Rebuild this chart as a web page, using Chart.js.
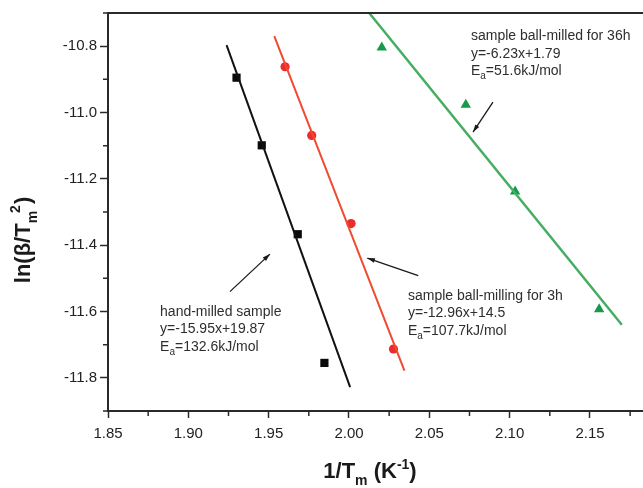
<!DOCTYPE html>
<html>
<head>
<meta charset="utf-8">
<script src="https://cdn.jsdelivr.net/npm/chart.js@4.4.1/dist/chart.umd.min.js"></script>
<style>
  body { margin: 0; background: #fff; }
  #wrap { width: 643px; height: 488px; position: relative; }
</style>
</head>
<body>
<div id="wrap"><canvas id="grafico"></canvas></div>
<script>
// measured points
const handX = [1.930, 1.9457, 1.9681, 1.9847];
const handY = [-10.895, -11.099, -11.367, -11.755];
const ball3X = [1.9602, 1.9768, 2.0013, 2.0277];
const ball3Y = [-10.862, -11.069, -11.335, -11.713];
const ball36X = [2.0204, 2.0727, 2.1034, 2.1557];
const ball36Y = [-10.804, -10.977, -11.238, -11.593];

// fitted lines (end points)
const handFitX = [1.9238, 2.0007];
const handFitY = [-10.797, -11.828];
const ball3FitX = [1.9535, 2.0345];
const ball3FitY = [-10.770, -11.778];
const ball36FitX = [2.0126, 2.1698];
const ball36FitY = [-10.70, -11.640];

// axes
const xMajor = [1.85, 1.90, 1.95, 2.00, 2.05, 2.10, 2.15];
const xMinor = [1.875, 1.925, 1.975, 2.025, 2.075, 2.125, 2.175];
const yMajor = [-10.8, -11.0, -11.2, -11.4, -11.6, -11.8];
const yMinor = [-10.7, -10.9, -11.1, -11.3, -11.5, -11.7, -11.9];

// annotations (data coords)
const noteText = [
    ['hand-milled sample', 'y=-15.95x+19.87', 'E|a|=132.6kJ/mol'],
    ['sample ball-milling for 3h', 'y=-12.96x+14.5', 'E|a|=107.7kJ/mol'],
    ['sample ball-milled for 36h', 'y=-6.23x+1.79', 'E|a|=51.6kJ/mol']
];
const noteX = [1.8824, 2.0367, 2.0759];
const noteY = [-11.601, -11.553, -10.771];
const arrowFrom = [[1.9259, -11.540], [2.0431, -11.492], [2.0896, -10.969]];
const arrowTo = [[1.9508, -11.427], [2.0114, -11.439], [2.0772, -11.059]];

function pts(xs, ys) {
    return xs.map((x, i) => ({ x: x, y: ys[i] }));
}

function richWidth(ctx, parts) {
    let w = 0;
    parts.forEach(p => { ctx.font = p.font; w += ctx.measureText(p.t).width + (p.dx || 0); });
    return w;
}
function drawRich(ctx, parts, x, y) {
    parts.forEach(p => {
        ctx.font = p.font;
        ctx.fillText(p.t, x + (p.dx || 0), y + (p.dy || 0));
        x += ctx.measureText(p.t).width + (p.dx || 0);
    });
}

const extras = {
    id: 'extras',
    afterDraw(chart) {
        const ctx = chart.ctx;
        const xs = chart.scales.x, ys = chart.scales.y;
        const area = chart.chartArea;
        ctx.save();
        // top frame line
        ctx.strokeStyle = '#2a2a2a';
        ctx.lineWidth = 2;
        ctx.beginPath();
        ctx.moveTo(area.left - 1, area.top);
        ctx.lineTo(chart.width, area.top);
        ctx.stroke();
        // minor ticks
        ctx.lineWidth = 1.5;
        ctx.beginPath();
        xMinor.forEach(v => {
            const px = xs.getPixelForValue(v);
            ctx.moveTo(px, area.bottom);
            ctx.lineTo(px, area.bottom + 5);
        });
        yMinor.forEach(v => {
            const py = ys.getPixelForValue(v);
            ctx.moveTo(area.left, py);
            ctx.lineTo(area.left - 5, py);
        });
        ctx.stroke();

        // notes
        ctx.fillStyle = '#2e2e2e';
        ctx.textBaseline = 'middle';
        ctx.textAlign = 'left';
        noteText.forEach((lines, i) => {
            const px = xs.getPixelForValue(noteX[i]);
            const py = ys.getPixelForValue(noteY[i]);
            lines.forEach((ln, k) => {
                const bits = ln.split('|');
                const parts = [];
                bits.forEach((b, j) => {
                    if (!b) return;
                    if (j % 2 === 1) parts.push({ t: b, font: '10px "Liberation Sans", Arial', dy: 5 });
                    else parts.push({ t: b, font: '14px "Liberation Sans", Arial' });
                });
                drawRich(ctx, parts, px, py + k * 17.5);
            });
        });

        // arrows
        ctx.strokeStyle = '#1a1a1a';
        ctx.fillStyle = '#1a1a1a';
        ctx.lineWidth = 1.3;
        arrowFrom.forEach((a, i) => {
            const x1 = xs.getPixelForValue(a[0]), y1 = ys.getPixelForValue(a[1]);
            const x2 = xs.getPixelForValue(arrowTo[i][0]), y2 = ys.getPixelForValue(arrowTo[i][1]);
            const ang = Math.atan2(y2 - y1, x2 - x1);
            ctx.beginPath();
            ctx.moveTo(x1, y1);
            ctx.lineTo(x2, y2);
            ctx.stroke();
            ctx.beginPath();
            ctx.moveTo(x2, y2);
            ctx.lineTo(x2 - 8 * Math.cos(ang - 0.3), y2 - 8 * Math.sin(ang - 0.3));
            ctx.lineTo(x2 - 8 * Math.cos(ang + 0.3), y2 - 8 * Math.sin(ang + 0.3));
            ctx.closePath();
            ctx.fill();
        });

        // axis titles
        ctx.fillStyle = '#1a1a1a';
        ctx.textBaseline = 'alphabetic';
        const big = 'bold 22px "Liberation Sans", Arial';
        const small = 'bold 14px "Liberation Sans", Arial';
        const xt = [
            { t: '1/T', font: big },
            { t: 'm', font: small, dy: 7 },
            { t: ' (K', font: big },
            { t: '-1', font: small, dy: -9 },
            { t: ')', font: big }
        ];
        const xw = richWidth(ctx, xt);
        drawRich(ctx, xt, 370 - xw / 2, 478);

        const yt = [
            { t: 'ln(\u03B2/T', font: big },
            { t: 'm', font: small, dy: 7 },
            { t: '2', font: small, dy: -10, dx: -2 },
            { t: ')', font: big, dx: 1 }
        ];
        const yw = richWidth(ctx, yt);
        ctx.translate(30, 240);
        ctx.rotate(-Math.PI / 2);
        drawRich(ctx, yt, -yw / 2, 0);
        ctx.restore();
    }
};

const tickFont = { family: '"Liberation Sans", Arial', size: 15 };

const chart = new Chart(document.getElementById('grafico'), {
    type: 'scatter',
    data: {
        datasets: [
            { label: 'hand fit', data: pts(handFitX, handFitY), showLine: true, borderColor: '#111111', borderWidth: 2, pointRadius: 0 },
            { label: '3h fit', data: pts(ball3FitX, ball3FitY), showLine: true, borderColor: '#ef4b2f', borderWidth: 2, pointRadius: 0 },
            { label: '36h fit', data: pts(ball36FitX, ball36FitY), showLine: true, borderColor: '#46ad62', borderWidth: 2.5, pointRadius: 0 },
            { label: 'hand-milled', data: pts(handX, handY), pointStyle: 'rect', pointRadius: 5.8, backgroundColor: '#0a0a0a', borderColor: '#0a0a0a', borderWidth: 0 },
            { label: 'ball-milling 3h', data: pts(ball3X, ball3Y), pointStyle: 'circle', pointRadius: 4.6, backgroundColor: '#ec2b2b', borderColor: '#ec2b2b', borderWidth: 0 },
            { label: 'ball-milled 36h', data: pts(ball36X, ball36Y), pointStyle: 'triangle', pointRadius: 6, backgroundColor: '#16994a', borderColor: '#16994a', borderWidth: 0 }
        ]
    },
    options: {
        responsive: true,
        maintainAspectRatio: false,
        animation: false,
        layout: { autoPadding: false, padding: { top: 13, right: 0, left: 0, bottom: 0 } },
        plugins: { legend: { display: false }, tooltip: { enabled: false } },
        scales: {
            x: {
                type: 'linear',
                min: 1.85,
                max: 2.183,
                afterBuildTicks: s => { s.ticks = xMajor.map(v => ({ value: v })); },
                afterFit: s => { s.height = 77; s.paddingRight = 0; s.paddingLeft = 0; },
                ticks: { font: tickFont, color: '#222', padding: 7, maxRotation: 0, callback: v => v.toFixed(2) },
                grid: { drawOnChartArea: false, drawTicks: true, tickLength: 7, tickWidth: 1.5, tickColor: '#2a2a2a' },
                border: { display: true, width: 2, color: '#2a2a2a' }
            },
            y: {
                type: 'linear',
                min: -11.9,
                max: -10.7,
                afterBuildTicks: s => { s.ticks = yMajor.map(v => ({ value: v })); },
                afterFit: s => { s.width = 108; s.paddingTop = 0; s.paddingBottom = 0; },
                ticks: { font: tickFont, color: '#222', padding: 3, callback: v => v.toFixed(1) },
                grid: { drawOnChartArea: false, drawTicks: true, tickLength: 8, tickWidth: 1.5, tickColor: '#2a2a2a' },
                border: { display: true, width: 2, color: '#2a2a2a' }
            }
        }
    },
    plugins: [extras]
});
</script>
</body>
</html>
